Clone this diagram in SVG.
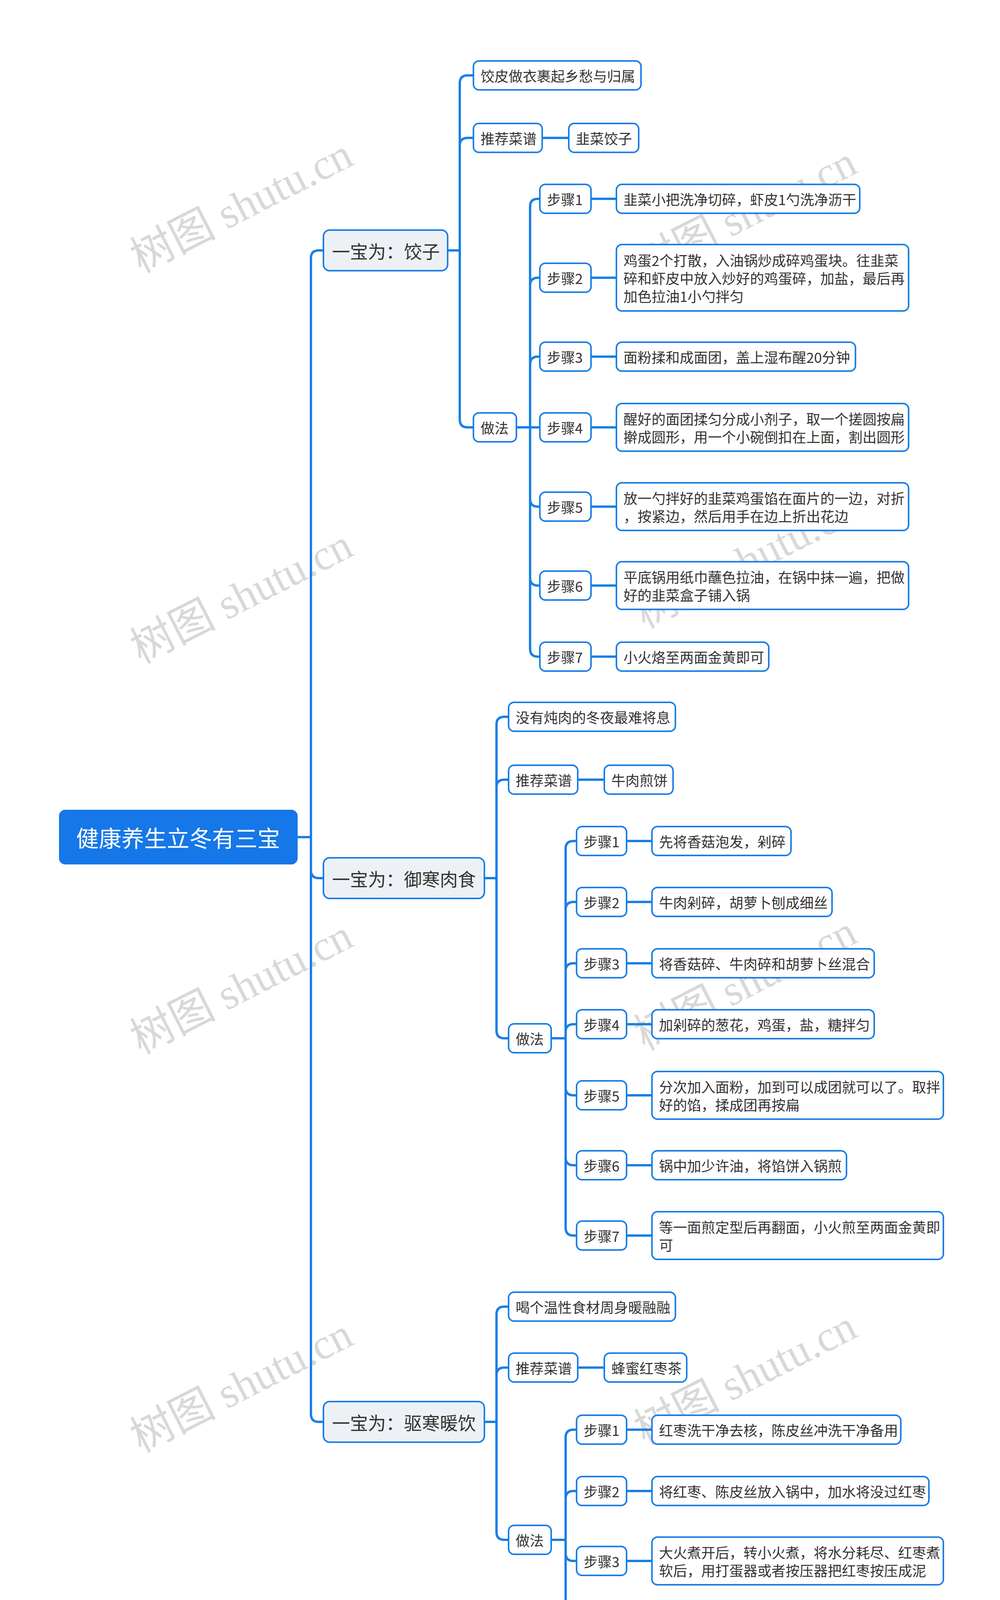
<svg xmlns="http://www.w3.org/2000/svg" width="2560" height="4446" viewBox="0 0 2560 4446">
<style>
text{font-family:"Noto Sans CJK SC","Liberation Sans",sans-serif;fill:#333;font-size:36px;dominant-baseline:central}
.b{fill:#fff;stroke:#1a7fe6;stroke-width:4}
.t{fill:#edf1f5;stroke:#1a7fe6;stroke-width:4}
.c path{fill:none;stroke:#1a7fe6;stroke-width:6}
.big{font-size:46px}
.wm{font-family:"Liberation Serif","Noto Sans CJK SC",serif;font-size:110px;fill:#d8d8d8;dominant-baseline:auto}
</style>
<g id="watermarks">
<text class="wm" transform="translate(360,700) rotate(-27)">树图 shutu.cn</text>
<text class="wm" transform="translate(1650,720) rotate(-27)">树图 shutu.cn</text>
<text class="wm" transform="translate(360,1700) rotate(-27)">树图 shutu.cn</text>
<text class="wm" transform="translate(1650,1610) rotate(-27)">树图 shutu.cn</text>
<text class="wm" transform="translate(360,2700) rotate(-27)">树图 shutu.cn</text>
<text class="wm" transform="translate(1650,2690) rotate(-27)">树图 shutu.cn</text>
<text class="wm" transform="translate(360,3720) rotate(-27)">树图 shutu.cn</text>
<text class="wm" transform="translate(1650,3700) rotate(-27)">树图 shutu.cn</text>
<text class="wm" transform="translate(360,4600) rotate(-27)">树图 shutu.cn</text>
<text class="wm" transform="translate(1650,4600) rotate(-27)">树图 shutu.cn</text>
</g>
<g class="c" id="connectors">
<path d="M762 2143 H796 V661 Q796 641 816 641 H828"/>
<path d="M762 2143 H796 V2228 Q796 2248 816 2248 H828"/>
<path d="M762 2143 H796 V3620 Q796 3640 816 3640 H828"/>
<path d="M1146 641 H1177 V213 Q1177 193 1197 193 H1212"/>
<path d="M1146 641 H1177 V373 Q1177 353 1197 353 H1212"/>
<path d="M1146 641 H1177 V1074 Q1177 1094 1197 1094 H1212"/>
<path d="M1388 353 H1456"/>
<path d="M1322 1094 H1357 V529 Q1357 509 1377 509 H1382"/>
<path d="M1322 1094 H1357 V731 Q1357 711 1377 711 H1382"/>
<path d="M1322 1094 H1357 V933 Q1357 913 1377 913 H1382"/>
<path d="M1322 1094 H1382"/>
<path d="M1322 1094 H1357 V1277 Q1357 1297 1377 1297 H1382"/>
<path d="M1322 1094 H1357 V1479 Q1357 1499 1377 1499 H1382"/>
<path d="M1322 1094 H1357 V1661 Q1357 1681 1377 1681 H1382"/>
<path d="M1513 509 H1578 M1513 711 H1578 M1513 913 H1578 M1513 1094 H1578 M1513 1297 H1578 M1513 1499 H1578 M1513 1681 H1578"/>
<path d="M1240 2248 H1271 V1855 Q1271 1835 1291 1835 H1302"/>
<path d="M1240 2248 H1271 V2016 Q1271 1996 1291 1996 H1302"/>
<path d="M1240 2248 H1271 V2638 Q1271 2658 1291 2658 H1302"/>
<path d="M1479 1996 H1547"/>
<path d="M1411 2658 H1448 V2173 Q1448 2153 1468 2153 H1476"/>
<path d="M1411 2658 H1448 V2329 Q1448 2309 1468 2309 H1476"/>
<path d="M1411 2658 H1448 V2486 Q1448 2466 1468 2466 H1476"/>
<path d="M1411 2658 H1448 V2642 Q1448 2622 1468 2622 H1476"/>
<path d="M1411 2658 H1448 V2784 Q1448 2804 1468 2804 H1476"/>
<path d="M1411 2658 H1448 V2963 Q1448 2983 1468 2983 H1476"/>
<path d="M1411 2658 H1448 V3143 Q1448 3163 1468 3163 H1476"/>
<path d="M1604 2153 H1669 M1604 2309 H1669 M1604 2466 H1669 M1604 2622 H1669 M1604 2804 H1669 M1604 2983 H1669 M1604 3163 H1669"/>
<path d="M1240 3640 H1271 V3365 Q1271 3345 1291 3345 H1302"/>
<path d="M1240 3640 H1271 V3521 Q1271 3501 1291 3501 H1302"/>
<path d="M1240 3640 H1271 V3922 Q1271 3942 1291 3942 H1302"/>
<path d="M1479 3501 H1547"/>
<path d="M1411 3942 H1448 V3680 Q1448 3660 1468 3660 H1476"/>
<path d="M1411 3942 H1448 V3837 Q1448 3817 1468 3817 H1476"/>
<path d="M1411 3942 H1448 V3976 Q1448 3996 1468 3996 H1476"/>
<path d="M1411 3942 H1448 V4203 Q1448 4223 1468 4223 H1476"/>
<path d="M1604 3660 H1669 M1604 3817 H1669 M1604 3996 H1669 M1604 4223 H1669"/>
</g>
<g id="root"><rect x="151" y="2073" width="611" height="140" rx="16" fill="#1677e8"/><text x="456" y="2143" text-anchor="middle" style="fill:#fff;font-size:58px">健康养生立冬有三宝</text></g>

<g id="a"><rect class="t" x="828" y="589" width="318" height="104" rx="16"/><text class="big" x="850" y="641">一宝为：饺子</text></g>
<g id="a1"><rect class="b" x="1212" y="156" width="429" height="74" rx="14"/><text x="1230" y="193">饺皮做衣裹起乡愁与归属</text></g>
<g id="a2"><rect class="b" x="1212" y="316" width="176" height="74" rx="14"/><text x="1230" y="353">推荐菜谱</text></g>
<g id="a2a"><rect class="b" x="1456" y="316" width="179" height="74" rx="14"/><text x="1474" y="353">韭菜饺子</text></g>
<g id="a3"><rect class="b" x="1212" y="1057" width="110" height="74" rx="14"/><text x="1230" y="1094">做法</text></g>
<g id="as1"><rect class="b" x="1382" y="472" width="131" height="74" rx="14"/><text x="1400" y="509">步骤1</text></g>
<g id="as2"><rect class="b" x="1382" y="674" width="131" height="74" rx="14"/><text x="1400" y="711">步骤2</text></g>
<g id="as3"><rect class="b" x="1382" y="876" width="131" height="74" rx="14"/><text x="1400" y="913">步骤3</text></g>
<g id="as4"><rect class="b" x="1382" y="1057" width="131" height="74" rx="14"/><text x="1400" y="1094">步骤4</text></g>
<g id="as5"><rect class="b" x="1382" y="1260" width="131" height="74" rx="14"/><text x="1400" y="1297">步骤5</text></g>
<g id="as6"><rect class="b" x="1382" y="1462" width="131" height="74" rx="14"/><text x="1400" y="1499">步骤6</text></g>
<g id="as7"><rect class="b" x="1382" y="1644" width="131" height="74" rx="14"/><text x="1400" y="1681">步骤7</text></g>
<g id="ac1"><rect class="b" x="1578" y="472" width="623" height="74" rx="14"/><text x="1596" y="509">韭菜小把洗净切碎，虾皮1勺洗净沥干</text></g>
<g id="ac2"><rect class="b" x="1578" y="626" width="748" height="170" rx="14"/><text x="1596" y="665">鸡蛋2个打散，入油锅炒成碎鸡蛋块。往韭菜</text><text x="1596" y="711">碎和虾皮中放入炒好的鸡蛋碎，加盐，最后再</text><text x="1596" y="757">加色拉油1小勺拌匀</text></g>
<g id="ac3"><rect class="b" x="1578" y="876" width="612" height="74" rx="14"/><text x="1596" y="913">面粉揉和成面团，盖上湿布醒20分钟</text></g>
<g id="ac4"><rect class="b" x="1578" y="1033" width="748" height="122" rx="14"/><text x="1596" y="1071">醒好的面团揉匀分成小剂子，取一个搓圆按扁</text><text x="1596" y="1117">擀成圆形，用一个小碗倒扣在上面，割出圆形</text></g>
<g id="ac5"><rect class="b" x="1578" y="1236" width="748" height="122" rx="14"/><text x="1596" y="1274">放一勺拌好的韭菜鸡蛋馅在面片的一边，对折</text><text x="1596" y="1320">，按紧边，然后用手在边上折出花边</text></g>
<g id="ac6"><rect class="b" x="1578" y="1438" width="748" height="122" rx="14"/><text x="1596" y="1476">平底锅用纸巾蘸色拉油，在锅中抹一遍，把做</text><text x="1596" y="1522">好的韭菜盒子铺入锅</text></g>
<g id="ac7"><rect class="b" x="1578" y="1644" width="390" height="74" rx="14"/><text x="1596" y="1681">小火烙至两面金黄即可</text></g>

<g id="b"><rect class="t" x="828" y="2196" width="412" height="104" rx="16"/><text class="big" x="850" y="2248">一宝为：御寒肉食</text></g>
<g id="b1"><rect class="b" x="1302" y="1798" width="427" height="74" rx="14"/><text x="1320" y="1835">没有炖肉的冬夜最难将息</text></g>
<g id="b2"><rect class="b" x="1302" y="1959" width="177" height="74" rx="14"/><text x="1320" y="1996">推荐菜谱</text></g>
<g id="b2a"><rect class="b" x="1547" y="1959" width="176" height="74" rx="14"/><text x="1565" y="1996">牛肉煎饼</text></g>
<g id="b3"><rect class="b" x="1302" y="2621" width="109" height="74" rx="14"/><text x="1320" y="2658">做法</text></g>
<g id="bs1"><rect class="b" x="1476" y="2116" width="128" height="74" rx="14"/><text x="1494" y="2153">步骤1</text></g>
<g id="bs2"><rect class="b" x="1476" y="2272" width="128" height="74" rx="14"/><text x="1494" y="2309">步骤2</text></g>
<g id="bs3"><rect class="b" x="1476" y="2429" width="128" height="74" rx="14"/><text x="1494" y="2466">步骤3</text></g>
<g id="bs4"><rect class="b" x="1476" y="2585" width="128" height="74" rx="14"/><text x="1494" y="2622">步骤4</text></g>
<g id="bs5"><rect class="b" x="1476" y="2767" width="128" height="74" rx="14"/><text x="1494" y="2804">步骤5</text></g>
<g id="bs6"><rect class="b" x="1476" y="2946" width="128" height="74" rx="14"/><text x="1494" y="2983">步骤6</text></g>
<g id="bs7"><rect class="b" x="1476" y="3126" width="128" height="74" rx="14"/><text x="1494" y="3163">步骤7</text></g>
<g id="bc1"><rect class="b" x="1669" y="2116" width="356" height="74" rx="14"/><text x="1687" y="2153">先将香菇泡发，剁碎</text></g>
<g id="bc2"><rect class="b" x="1669" y="2272" width="461" height="74" rx="14"/><text x="1687" y="2309">牛肉剁碎，胡萝卜刨成细丝</text></g>
<g id="bc3"><rect class="b" x="1669" y="2429" width="569" height="74" rx="14"/><text x="1687" y="2466">将香菇碎、牛肉碎和胡萝卜丝混合</text></g>
<g id="bc4"><rect class="b" x="1669" y="2585" width="569" height="74" rx="14"/><text x="1687" y="2622">加剁碎的葱花，鸡蛋，盐，糖拌匀</text></g>
<g id="bc5"><rect class="b" x="1669" y="2743" width="746" height="122" rx="14"/><text x="1687" y="2781">分次加入面粉，加到可以成团就可以了。取拌</text><text x="1687" y="2827">好的馅，揉成团再按扁</text></g>
<g id="bc6"><rect class="b" x="1669" y="2946" width="498" height="74" rx="14"/><text x="1687" y="2983">锅中加少许油，将馅饼入锅煎</text></g>
<g id="bc7"><rect class="b" x="1669" y="3102" width="746" height="122" rx="14"/><text x="1687" y="3140">等一面煎定型后再翻面，小火煎至两面金黄即</text><text x="1687" y="3186">可</text></g>

<g id="c"><rect class="t" x="828" y="3588" width="412" height="104" rx="16"/><text class="big" x="850" y="3640">一宝为：驱寒暖饮</text></g>
<g id="c1"><rect class="b" x="1302" y="3308" width="427" height="74" rx="14"/><text x="1320" y="3345">喝个温性食材周身暖融融</text></g>
<g id="c2"><rect class="b" x="1302" y="3464" width="177" height="74" rx="14"/><text x="1320" y="3501">推荐菜谱</text></g>
<g id="c2a"><rect class="b" x="1547" y="3464" width="211" height="74" rx="14"/><text x="1565" y="3501">蜂蜜红枣茶</text></g>
<g id="c3"><rect class="b" x="1302" y="3905" width="109" height="74" rx="14"/><text x="1320" y="3942">做法</text></g>
<g id="cs1"><rect class="b" x="1476" y="3623" width="128" height="74" rx="14"/><text x="1494" y="3660">步骤1</text></g>
<g id="cs2"><rect class="b" x="1476" y="3780" width="128" height="74" rx="14"/><text x="1494" y="3817">步骤2</text></g>
<g id="cs3"><rect class="b" x="1476" y="3959" width="128" height="74" rx="14"/><text x="1494" y="3996">步骤3</text></g>
<g id="cs4"><rect class="b" x="1476" y="4186" width="128" height="74" rx="14"/><text x="1494" y="4223">步骤4</text></g>
<g id="cc1"><rect class="b" x="1669" y="3623" width="637" height="74" rx="14"/><text x="1687" y="3660">红枣洗干净去核，陈皮丝冲洗干净备用</text></g>
<g id="cc2"><rect class="b" x="1669" y="3780" width="709" height="74" rx="14"/><text x="1687" y="3817">将红枣、陈皮丝放入锅中，加水将没过红枣</text></g>
<g id="cc3"><rect class="b" x="1669" y="3935" width="746" height="122" rx="14"/><text x="1687" y="3973">大火煮开后，转小火煮，将水分耗尽、红枣煮</text><text x="1687" y="4019">软后，用打蛋器或者按压器把红枣按压成泥</text></g>
<g id="cc4"><rect class="b" x="1669" y="4138" width="746" height="170" rx="14"/><text x="1687" y="4177">自然晾凉后，放入干净瓶子中，加入蜂蜜拌匀</text><text x="1687" y="4223">，放冰箱冷藏保存。食用时取一勺蜂蜜大枣茶</text><text x="1687" y="4269">，兑入温或冷水调开即可</text></g>
</svg>
